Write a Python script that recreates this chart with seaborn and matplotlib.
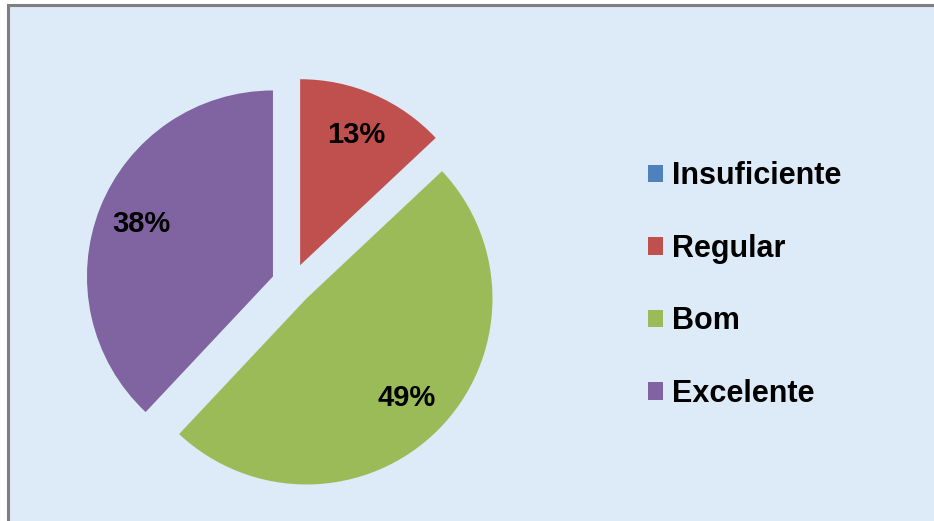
import matplotlib
matplotlib.use("Agg")
import matplotlib.pyplot as plt
import matplotlib.patches as mpatches
import seaborn as sns

categories = ["Insuficiente", "Regular", "Bom", "Excelente"]
values = [0, 13, 49, 38]
colors = ["#4F81BD", "#C0504D", "#9BBB59", "#8064A2"]

sns.set_style("white")
plt.rcParams["font.family"] = ["Liberation Sans", "DejaVu Sans"]
plt.rcParams["font.weight"] = "bold"
plt.rcParams["text.color"] = "black"

W, H = 934, 521
fig = plt.figure(figsize=(W / 100, H / 100), dpi=100, facecolor="white")

# fundo azul claro com borda cinza em cima e à esquerda
bg = mpatches.Rectangle((8 / W, -0.1), 1.2, 1.1 - 5 / H, transform=fig.transFigure,
                        facecolor="#DDEAF7", edgecolor="#7F7F7F", linewidth=2.2,
                        zorder=-10)
fig.patches.append(bg)

# pizza: centro ~ (292, 284) px, raio ~186 px
R = 186
a = 1.25
side = 2 * a * R
cx, cy = 292, H - 284
ax = fig.add_axes([(cx - side / 2) / W, (cy - side / 2) / H, side / W, side / H])
ax.set_facecolor("none")

wedges, texts, autotexts = ax.pie(
    values, colors=colors, startangle=90, counterclock=False,
    explode=[0.11] * len(values), radius=1,
    autopct=lambda p: f"{p:.0f}%" if p > 0 else "",
    pctdistance=0.76,
    wedgeprops={"linewidth": 0, "edgecolor": "none"},
    textprops={"fontsize": 21, "fontweight": "bold", "color": "black"},
)
ax.set_xlim(-a, a)
ax.set_ylim(-a, a)
ax.set_aspect("equal")
ax.axis("off")

fig.legend(wedges, categories, loc="center left",
           bbox_to_anchor=(648 / W, (H - 285) / H),
           frameon=False, prop={"weight": "bold", "size": 22},
           labelcolor="black",
           handlelength=0.5, handleheight=0.5, handletextpad=0.3,
           labelspacing=1.39, borderpad=0, borderaxespad=0)

fig.savefig("out.png", dpi=100, facecolor=fig.get_facecolor())
